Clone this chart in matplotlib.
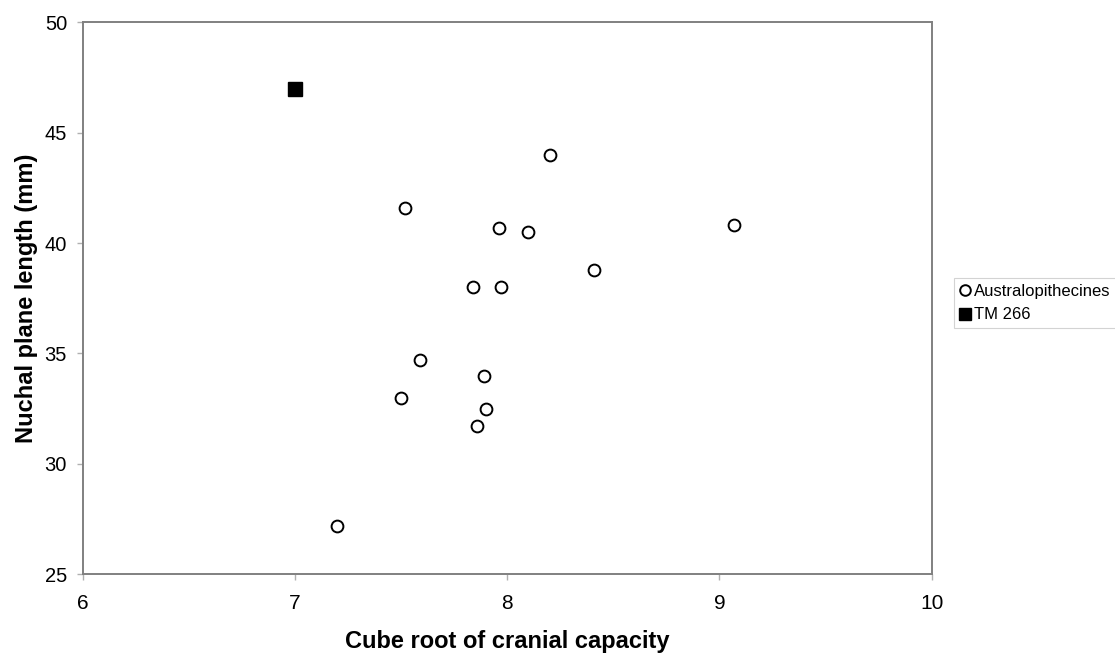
import matplotlib.pyplot as plt

plt.rcParams["font.family"] = ["Liberation Sans", "DejaVu Sans"]

# Australopithecines
aus_x = [8.20, 7.52, 7.96, 8.10, 9.07, 8.41, 7.84, 7.97, 7.59, 7.89, 7.50, 7.90, 7.86, 7.20]
aus_y = [44.0, 41.6, 40.7, 40.5, 40.8, 38.8, 38.0, 38.0, 34.7, 34.0, 33.0, 32.5, 31.7, 27.2]

# TM 266
tm_x = [7.0]
tm_y = [47.0]

x_ticks = [6, 7, 8, 9, 10]
y_ticks = [25, 30, 35, 40, 45, 50]

fig = plt.figure(figsize=(11.15, 6.53), dpi=100)
ax = fig.add_axes([0.0742, 0.1205, 0.7614, 0.8454])

ax.plot(aus_x, aus_y, linestyle="none", marker="o", markersize=8.5,
        markerfacecolor="white", markeredgecolor="black", markeredgewidth=1.4,
        label="Australopithecines")
ax.plot(tm_x, tm_y, linestyle="none", marker="s", markersize=9.5,
        color="black", label="TM 266")

ax.set_xlim(6, 10)
ax.set_ylim(25, 50)
ax.set_xticks(x_ticks)
ax.set_yticks(y_ticks)
ax.tick_params(labelsize=14.5, length=4.3, width=1, color="#b0b0b0",
               direction="out", pad=7)
ax.tick_params(axis="x", labelsize=15, pad=10)

for s in ax.spines.values():
    s.set_color("#808080")
    s.set_linewidth(1.4)

ax.set_xlabel("Cube root of cranial capacity", fontsize=17, fontweight="bold", labelpad=12)
ax.set_ylabel("Nuchal plane length (mm)", fontsize=17, fontweight="bold", labelpad=5)

leg = fig.legend(loc="upper left", bbox_to_anchor=(0.856, 0.574), fontsize=12,
                 frameon=True, fancybox=False, handlelength=0.6, handletextpad=0.2,
                 borderpad=0.35, borderaxespad=0, labelspacing=0.5, markerscale=0.9)
leg.get_frame().set_edgecolor("#c8c8c8")
leg.get_frame().set_linewidth(0.8)

fig.savefig("out.png", dpi=100)
